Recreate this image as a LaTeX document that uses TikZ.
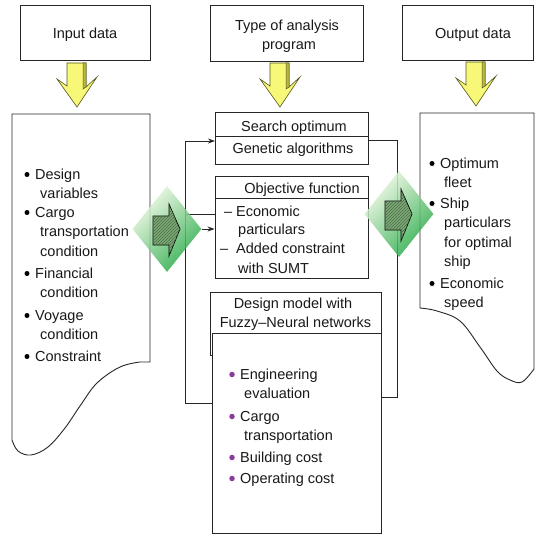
\documentclass[tikz,border=0pt]{standalone}
\usepackage{fontspec}
\setmainfont{Liberation Sans}
\usetikzlibrary{arrows.meta,shapes.geometric,patterns}
\definecolor{yel}{HTML}{F7F778}
\definecolor{yeldark}{HTML}{B8B840}
\definecolor{yeledge}{HTML}{55551E}
\definecolor{glight}{HTML}{F2F9E6}
\definecolor{gmid}{HTML}{78C462}
\definecolor{gdark}{HTML}{1AA53C}
\definecolor{hatchg}{HTML}{7FA878}
\definecolor{hatchl}{HTML}{4A7045}
\definecolor{purp}{HTML}{8A3C9C}
\begin{document}
\begin{tikzpicture}[x=1pt,y=-1pt,
  font=\fontsize{14.5}{19.5}\selectfont,
  box/.style={draw=black!85, line width=0.9pt, fill=white, inner sep=0, rectangle},
  t/.style={anchor=base west, inner sep=0, text=black!90},
  tc/.style={anchor=base, inner sep=0, text=black!90},
  bul/.style={circle, fill=black, inner sep=0, minimum size=5pt},
  pbul/.style={circle, fill=purp, inner sep=0, minimum size=5.5pt},
  ln/.style={draw=black!85, line width=0.9pt},
  arr/.style={ln, -{Stealth[length=7pt,width=5pt]}},
  gdiam/.style={diamond, minimum width=69pt, minimum height=86pt, inner sep=0,
    shading=axis, top color=glight, middle color=gmid, bottom color=gdark,
    shading angle=45, fill opacity=0.85},
  yarrow/.pic={
    \filldraw[fill=yel, draw=yeledge, line width=0.6pt]
      (-10,0) -- (9,0) -- (9,24) -- (20,14) -- (0,44) -- (-20,16) -- (-10,23) -- cycle;
    \filldraw[fill=yeldark, draw=yeledge, line width=0.5pt]
      (6,0) -- (9,0) -- (9,24) -- (6,26) -- cycle;
  },
  garrow/.pic={
    \draw[line width=0.7pt, fill=hatchg, postaction={pattern=north east lines, pattern color=hatchl}]
      (-14,-13) -- (2,-13) -- (2,-25) -- (13,0) -- (2,27) -- (2,16) -- (-14,16) -- cycle;
  }
]
\useasboundingbox (0,0) rectangle (535,535);

% header boxes
\node[box, minimum width=130pt, minimum height=55pt] (inhead) at (85,32.5) {};
\node[box, minimum width=153pt, minimum height=56pt] (tyhead) at (286.5,33) {};
\node[box, minimum width=131pt, minimum height=55pt] (outhead) at (467.5,32.5) {};

% yellow arrows
\pic at (77,63) {yarrow};
\pic at (280,63) {yarrow};
\pic at (476,62) {yarrow};

% input document
\draw[ln, fill=white] (12,114) -- (150,114) -- (150,362) -- plot[smooth, tension=0.6] coordinates
  {(140,362) (120,367) (97,383) (80,406) (65,428) (48,447) (31,455) (18,451) (12,440)} -- cycle;

% output document
\draw[ln, fill=white] (420,113) -- (534,113) -- (534,369) -- plot[smooth, tension=0.6] coordinates
  {(534,369) (522,382) (510,380) (497,371) (480,347) (460,321) (437,311) (420,308)} -- cycle;

% middle boxes
\node[box, minimum width=153pt, minimum height=24pt] (so) at (291.5,124) {};
\node[box, minimum width=153pt, minimum height=28pt] (ga) at (291.5,150) {};
\node[box, minimum width=153pt, minimum height=22pt] (objh) at (291.5,187) {};
\node[box, minimum width=153pt, minimum height=80pt] (objb) at (291.5,238) {};
\node[box, minimum width=171pt, minimum height=63pt] (dmh) at (295.5,323.5) {};
\node[box, minimum width=169pt, minimum height=200pt] (dmb) at (296.5,433) {};

% loop connectors
\coordinate (lb) at (212,403);
\coordinate (lc1) at (185,403);
\coordinate (lc2) at (185,141);
\coordinate (gain) at (215,141);
\draw[arr] (lb) -- (lc1) -- (lc2) -- (gain);
\coordinate (gaout) at (368,140);
\coordinate (rc1) at (397,140);
\coordinate (rc2) at (397,397);
\coordinate (dmr) at (381,397);
\draw[ln] (gaout) -- (rc1) -- (rc2) -- (dmr);
\coordinate (m1) at (185,214);
\draw[ln] (m1) -- (objb.west |- m1);

% diamonds
\node[gdiam] (d1) at (167,229) {};
\node[gdiam] (d2) at (399,214) {};
\pic at (167,229) {garrow};
\pic at (399,214) {garrow};
\draw[arr] (d1.east) -- (objb.west |- d1.east);

% header texts
\node[tc] (tin) at (85,39) {Input data};
\node[tc] (tty1) at (287,31) {Type of analysis};
\node[tc] (tty2) at (289,50) {program};
\node[tc] (tout) at (473,39) {Output data};
\node[tc] (tso) at (294,131) {Search optimum};
\node[tc] (tga) at (293,153) {Genetic algorithms};
\node[tc] (tobj) at (302,193) {Objective function};
\node[tc] (tdm1) at (293,308) {Design model with};
\node[tc] (tdm2) at (295.5,327) {Fuzzy–Neural networks};

% input list
\node[bul] (ib1) at (27,174.5) {};
\node[t] (i1a) at (35,179) {Design};
\node[t] (i1b) at (40,198.5) {variables};
\node[bul] (ib2) at (27,212.5) {};
\node[t] (i2a) at (35,217) {Cargo};
\node[t] (i2b) at (40,236.5) {transportation};
\node[t] (i2c) at (40,256) {condition};
\node[bul] (ib3) at (27,273.5) {};
\node[t] (i3a) at (35,278) {Financial};
\node[t] (i3b) at (40,297.5) {condition};
\node[bul] (ib4) at (27,315.5) {};
\node[t] (i4a) at (35,320) {Voyage};
\node[t] (i4b) at (40,339.5) {condition};
\node[bul] (ib5) at (27,356.5) {};
\node[t] (i5a) at (35,361) {Constraint};

% output list
\node[bul] (ob1) at (432,163.5) {};
\node[t] (o1a) at (440,168) {Optimum};
\node[t] (o1b) at (444,187.5) {fleet};
\node[bul] (ob2) at (432,203.5) {};
\node[t] (o2a) at (440,208) {Ship};
\node[t] (o2b) at (444,227.5) {particulars};
\node[t] (o2c) at (444,247) {for optimal};
\node[t] (o2d) at (444,266.5) {ship};
\node[bul] (ob3) at (432,283.5) {};
\node[t] (o3a) at (440,288) {Economic};
\node[t] (o3b) at (444,307.5) {speed};

% objective function body
\node[t] (od1) at (224,216) {–};
\node[t] (oe1) at (236,216) {Economic};
\node[t] (oe2) at (238,234) {particulars};
\node[t] (od2) at (220,253) {–};
\node[t] (oa1) at (236,253) {Added constraint};
\node[t] (oa2) at (238,273) {with SUMT};

% design model body
\node[pbul] (pb1) at (232,374.5) {};
\node[t] (p1a) at (240,379) {Engineering};
\node[t] (p1b) at (244,398.5) {evaluation};
\node[pbul] (pb2) at (232,416.5) {};
\node[t] (p2a) at (240,421) {Cargo};
\node[t] (p2b) at (244,440.5) {transportation};
\node[pbul] (pb3) at (232,457.5) {};
\node[t] (p3a) at (240,462) {Building cost};
\node[pbul] (pb4) at (232,478.5) {};
\node[t] (p4a) at (240,483) {Operating cost};
\end{tikzpicture}
\end{document}
